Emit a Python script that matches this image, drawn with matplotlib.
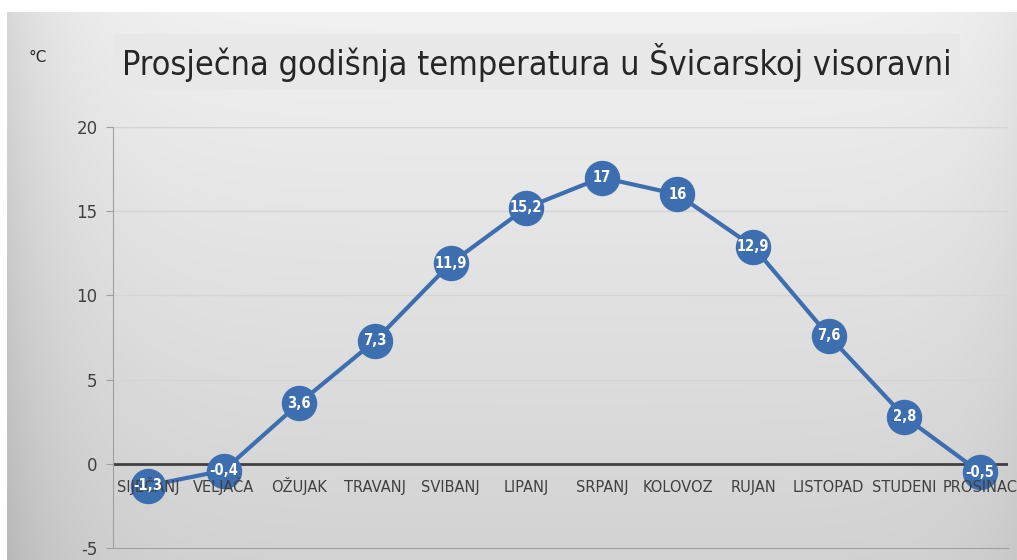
import numpy as np
import matplotlib
matplotlib.use("Agg")
import matplotlib.pyplot as plt

# data
months = ["SIJEČANJ", "VELJAČA", "OŽUJAK", "TRAVANJ", "SVIBANJ", "LIPANJ",
          "SRPANJ", "KOLOVOZ", "RUJAN", "LISTOPAD", "STUDENI", "PROSINAC"]
temps = [-1.3, -0.4, 3.6, 7.3, 11.9, 15.2, 17, 16, 12.9, 7.6, 2.8, -0.5]
y_ticks = [-5, 0, 5, 10, 15, 20]

plt.rcParams["font.family"] = ["DejaVu Sans"]
BLUE = "#3d6fb0"

fig = plt.figure(figsize=(10.17, 5.6), dpi=100)

# grey gradient background (white border on top/left)
bg = fig.add_axes([7 / 1017, 0, 1 - 7 / 1017, 1 - 12 / 560])
bg.axis("off")
yy, xx = np.mgrid[0:1:200j, 0:1:400j]
shade = 0.945 - 0.12 * yy - 0.10 * np.exp(-xx / 0.06) - 0.04 * np.exp(-(1 - xx) / 0.05)
bg.imshow(np.dstack([shade] * 3), aspect="auto", extent=[0, 1, 0, 1])

ax = fig.add_axes([113 / 1017, 1 - 548 / 560, (1008 - 113) / 1017, (548 - 127) / 560])
ax.patch.set_alpha(0)
x = np.arange(len(months))
ax.set_xlim(-0.463, 11.37)
ax.set_ylim(-5, 20)

for t in y_ticks[1:]:
    ax.axhline(t, color="#d4d4d4", lw=1, zorder=1)
ax.axhline(0, color="#404040", lw=2, zorder=2)

ax.plot(x, temps, color=BLUE, lw=3, marker="o", markersize=24.5,
        markerfacecolor=BLUE, markeredgecolor=BLUE, zorder=3)
for xi, v in zip(x, temps):
    lab = f"{v:g}".replace(".", ",")
    ax.text(xi, v, lab, color="white", fontsize=10.5, fontweight="bold",
            fontstretch="condensed", ha="center", va="center", zorder=5)

for xi, m in zip(x, months):
    ax.annotate(m, (xi, 0), xytext=(0, -20), textcoords="offset points",
                ha="center", va="baseline", fontsize=10.5, color="#404040",
                zorder=4)

ax.set_yticks(y_ticks)
ax.set_yticklabels([str(t) for t in y_ticks])
ax.tick_params(axis="y", length=5, color="#a0a0a0", labelsize=12,
               labelcolor="#404040", pad=6)
ax.set_xticks([])
for s in ["top", "right"]:
    ax.spines[s].set_visible(False)
ax.spines["left"].set_color("#a0a0a0")
ax.spines["bottom"].set_color("#a0a0a0")

fig.text(122 / 1017, 1 - 62 / 560, "Prosječna godišnja temperatura u Švicarskoj visoravni",
         fontsize=24.5, color="#262626", ha="left", va="center", fontstretch="condensed",
         bbox=dict(boxstyle="square,pad=0.25", fc="#e8e8e8", ec="none"))
fig.text(28 / 1017, 1 - 57 / 560, "°C", fontsize=11, color="#262626",
         ha="left", va="center")

fig.savefig("out.png", dpi=100)
